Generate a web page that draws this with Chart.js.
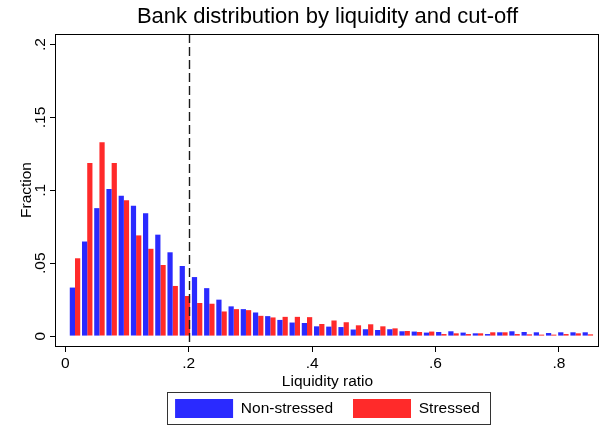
<!DOCTYPE html>
<html>
<head>
<meta charset="utf-8">
<script src="https://cdn.jsdelivr.net/npm/chart.js@4.4.1/dist/chart.umd.min.js"></script>
<style>
  html, body { margin: 0; padding: 0; background: #fff; }
  #wrap { width: 603px; height: 428px; }
</style>
</head>
<body>
<div id="wrap"><canvas id="bankChart" width="603" height="428"></canvas></div>
<script>
// bin centres of the liquidity ratio histogram
var binCentres = [0.0157, 0.0355, 0.0553, 0.0751, 0.0949, 0.1147, 0.1344, 0.1542, 0.1740, 0.1938,
    0.2136, 0.2334, 0.2532, 0.2730, 0.2928, 0.3126, 0.3323, 0.3521, 0.3719, 0.3917,
    0.4115, 0.4313, 0.4511, 0.4709, 0.4907, 0.5105, 0.5302, 0.5500, 0.5698, 0.5896,
    0.6094, 0.6292, 0.6490, 0.6688, 0.6886, 0.7084, 0.7281, 0.7479, 0.7677, 0.7875,
    0.8073, 0.8271, 0.8469];

var nonStressed = [0.0333, 0.0649, 0.0878, 0.1010, 0.0963, 0.0894, 0.0843, 0.0696, 0.0575, 0.0481,
    0.0405, 0.0329, 0.0250, 0.0204, 0.0185, 0.0162, 0.0137, 0.0111, 0.0093, 0.0090,
    0.0067, 0.0065, 0.0062, 0.0045, 0.0047, 0.0042, 0.0047, 0.0033, 0.0031, 0.0024,
    0.0028, 0.0033, 0.0024, 0.0019, 0.0014, 0.0026, 0.0033, 0.0028, 0.0026, 0.0021,
    0.0026, 0.0026, 0.0026];

var stressed = [0.0534, 0.1188, 0.1330, 0.1188, 0.0933, 0.0691, 0.0599, 0.0488, 0.0344, 0.0275,
    0.0227, 0.0222, 0.0169, 0.0185, 0.0178, 0.0139, 0.0128, 0.0132, 0.0132, 0.0130,
    0.0083, 0.0107, 0.0095, 0.0074, 0.0081, 0.0067, 0.0053, 0.0035, 0.0028, 0.0031,
    0.0014, 0.0019, 0.0014, 0.0019, 0.0026, 0.0026, 0.0014, 0.0012, 0.0010, 0.0010,
    0.0014, 0.0019, 0.0012];

var xTicks = [0, 0.2, 0.4, 0.6, 0.8];
var yTicks = [0, 0.05, 0.1, 0.15, 0.2];
var cutoff = 0.2;

function stataLabel(v){
    if (v === 0) return '0';
    return String(+v.toFixed(2)).replace(/^0\./, '.');
}

function toPoints(values){
    var pts = [];
    for (var i = 0; i < values.length; i++){
        pts.push({x: binCentres[i], y: values[i]});
    }
    return pts;
}

// frame around the plot, the dashed cut-off line and the box round the legend
const framePlugin = {
    id: 'frame',
    afterDatasetsDraw: function(chart){
        const ctx = chart.ctx;
        const a = chart.chartArea;
        const xp = Math.round(chart.scales.x.getPixelForValue(cutoff)) + 0.5;
        ctx.save();
        ctx.strokeStyle = '#1a1a1a';
        ctx.lineWidth = 1.4;
        ctx.setLineDash([9, 4]);
        ctx.beginPath();
        ctx.moveTo(xp, a.top);
        ctx.lineTo(xp, a.bottom);
        ctx.stroke();
        ctx.restore();
    },
    afterDraw: function(chart){
        const ctx = chart.ctx;
        const a = chart.chartArea;
        ctx.save();
        ctx.strokeStyle = '#000';
        ctx.lineWidth = 1;
        ctx.strokeRect(Math.round(a.left) - 0.5, Math.round(a.top) + 0.5,
            Math.round(a.right - a.left), Math.round(a.bottom - a.top));
        const boxes = chart.legend.legendHitBoxes;
        if (boxes && boxes.length){
            var l = boxes[0].left, r = 0, t = boxes[0].top, b = 0;
            boxes.forEach(function(h){
                l = Math.min(l, h.left);
                r = Math.max(r, h.left + h.width);
                t = Math.min(t, h.top);
                b = Math.max(b, h.top + h.height);
            });
            ctx.strokeStyle = '#333';
            ctx.strokeRect(Math.round(l - 8) + 0.5, Math.round(t - 7) + 0.5,
                Math.round(r - l + 18), Math.round(b - t + 13));
        }
        ctx.restore();
    }
};

Chart.defaults.font.family = "'Liberation Sans', Arial, sans-serif";
Chart.defaults.color = '#000';

const dataBank = {
    datasets: [{
        label: 'Non-stressed',
        data: toPoints(nonStressed),
        backgroundColor: 'rgb(42, 42, 255)',
        borderWidth: 0
    }, {
        label: 'Stressed',
        data: toPoints(stressed),
        backgroundColor: 'rgb(255, 42, 42)',
        borderWidth: 0
    }]
};

const config = {
    type: 'bar',
    data: dataBank,
    options: {
        responsive: false,
        animation: false,
        layout: {
            padding: {left: 0, right: 4, top: 0, bottom: 0}
        },
        datasets: {
            bar: {
                categoryPercentage: 0.86,
                barPercentage: 1.0
            }
        },
        scales: {
            x: {
                type: 'linear',
                offset: false,
                min: -0.0151,
                max: 0.865,
                grid: {
                    offset: false,
                    drawOnChartArea: false,
                    drawTicks: true,
                    tickLength: 6,
                    color: '#000'
                },
                border: { display: false },
                afterBuildTicks: function(scale){
                    scale.ticks = xTicks.map(function(v){ return {value: v}; });
                },
                afterFit: function(scale){
                    scale.height = 33;
                },
                ticks: {
                    padding: 2,
                    maxRotation: 0,
                    font: { size: 15.5 },
                    callback: function(v){ return stataLabel(v); }
                },
                title: {
                    display: true,
                    text: 'Liquidity ratio',
                    font: { size: 15.5 },
                    padding: { top: 0, bottom: -12.3 }
                }
            },
            y: {
                min: -0.0068,
                max: 0.2073,
                grid: {
                    drawOnChartArea: false,
                    drawTicks: true,
                    tickLength: 6,
                    color: '#000'
                },
                border: { display: false },
                afterBuildTicks: function(scale){
                    scale.ticks = yTicks.map(function(v){ return {value: v}; });
                },
                afterFit: function(scale){
                    scale.width = 56;
                },
                ticks: {
                    padding: -1.5,
                    minRotation: 90,
                    maxRotation: 90,
                    crossAlign: 'center',
                    font: { size: 15.5 },
                    callback: function(v){ return stataLabel(v); }
                },
                title: {
                    display: true,
                    text: 'Fraction',
                    font: { size: 15.5 },
                    padding: { top: 17.5, bottom: 0 }
                }
            }
        },
        plugins: {
            title: {
                display: true,
                fullSize: false,
                text: 'Bank distribution by liquidity and cut-off',
                font: { size: 22, weight: 'normal' },
                padding: { top: 4, bottom: 3.6 }
            },
            legend: {
                position: 'bottom',
                fullSize: false,
                labels: {
                    boxWidth: 58,
                    boxHeight: 19,
                    padding: 20,
                    font: { size: 15.5 }
                }
            },
            tooltip: { enabled: false }
        }
    },
    plugins: [framePlugin]
};

const bankChart = new Chart(
    document.getElementById('bankChart'),
    config
);
</script>
</body>
</html>
